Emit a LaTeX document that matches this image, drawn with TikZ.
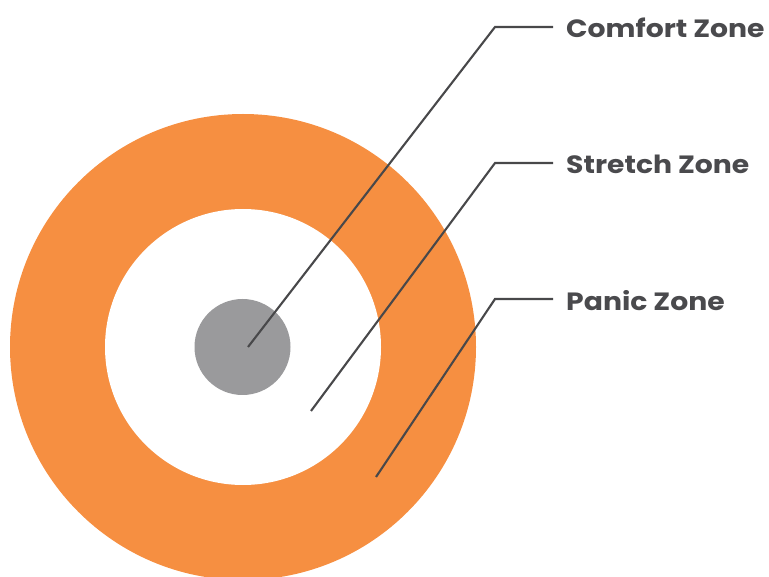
\documentclass[tikz,border=0pt]{standalone}
\usepackage{fontspec}
\setmainfont{Poppins}
\newfontfamily\labelfont[FakeStretch=1.13]{Poppins}
\definecolor{zoneorange}{HTML}{F68F41}
\definecolor{zonegray}{HTML}{9A9A9C}
\definecolor{linegray}{HTML}{48484A}
\definecolor{textgray}{HTML}{4A4A4D}
\begin{document}
\begin{tikzpicture}[x=1pt,y=-1pt,
  zonelabel/.style={anchor=base west,inner sep=0pt,font=\labelfont\fontsize{25}{27}\selectfont\bfseries,text=textgray},
  leader/.style={draw=linegray,line width=2.1pt,line join=miter}]
\useasboundingbox (0,0) rectangle (769,577);
\begin{scope}
\clip (0,0) rectangle (769,577);
\fill[zoneorange] (243,347) circle[radius=233];
\fill[white] (243,347) circle[radius=138];
\fill[zonegray] (242.5,347) circle[radius=48];
\end{scope}
\node[zonelabel] (comfort) at (566,37.5) {Comfort Zone};
\node[zonelabel] (stretch) at (566,174) {Stretch Zone};
\node[zonelabel] (panic) at (566,311) {Panic Zone};
\coordinate (c0) at (248,347);
\coordinate (s0) at (311,411);
\coordinate (p0) at (376,477);
\coordinate (c1) at (495,27);
\coordinate (s1) at (495,163);
\coordinate (p1) at (495,299);
\coordinate (c2) at (553,27);
\coordinate (s2) at (553,163);
\coordinate (p2) at (553,299);
\draw[leader] (c0) -- (c1) -- (c2);
\draw[leader] (s0) -- (s1) -- (s2);
\draw[leader] (p0) -- (p1) -- (p2);
\end{tikzpicture}
\end{document}
